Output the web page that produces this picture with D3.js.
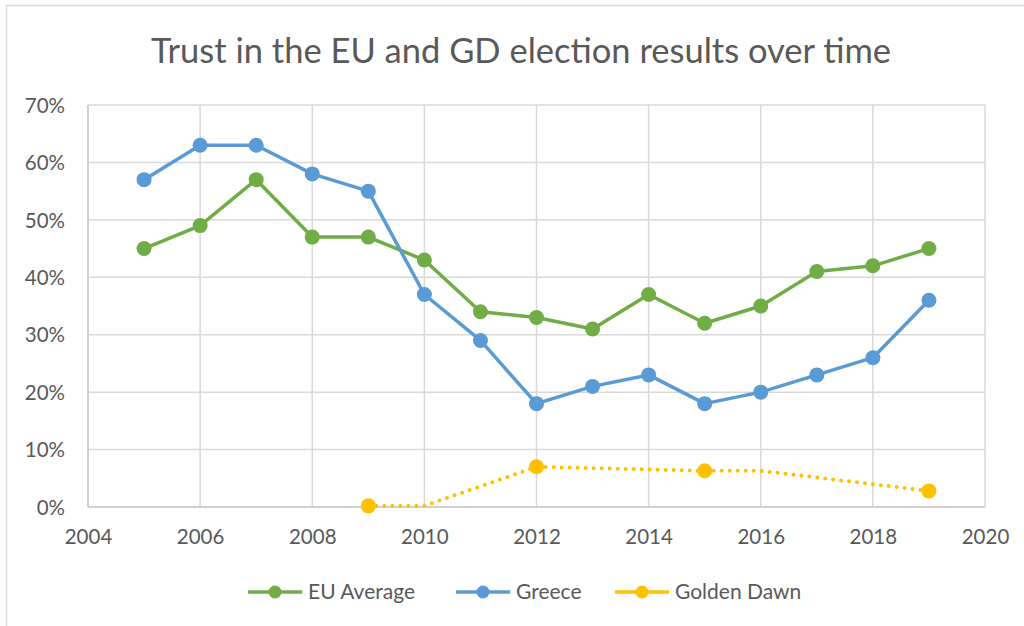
<!DOCTYPE html>
<html>
<head>
<meta charset="utf-8">
<script src="https://cdn.jsdelivr.net/npm/d3@7"></script>
<style>
  body { margin: 0; background: #fff; }
  svg { display: block; }
</style>
</head>
<body>
<script>
// data
var years = [2005, 2006, 2007, 2008, 2009, 2010, 2011, 2012, 2013, 2014, 2015, 2016, 2017, 2018, 2019];
var euAverage = [45, 49, 57, 47, 47, 43, 34, 33, 31, 37, 32, 35, 41, 42, 45];
var greece = [57, 63, 63, 58, 55, 37, 29, 18, 21, 23, 18, 20, 23, 26, 36];
// golden dawn: line points, markers only at election results
var gdYears = [2009, 2010, 2012, 2015, 2016, 2019];
var gdValues = [0.2, 0.2, 7.0, 6.3, 6.3, 2.8];
var gdMarked = [true, false, true, true, false, true];
var xTicks = [2004, 2006, 2008, 2010, 2012, 2014, 2016, 2018, 2020];
var yTicks = [0, 10, 20, 30, 40, 50, 60, 70];
var seriesNames = ["EU Average", "Greece", "Golden Dawn"];
var seriesColors = ["#70AD47", "#5B9BD5", "#FFC000"];

var W = 1024, H = 626;
var svg = d3.select("body").append("svg")
    .attr("width", W)
    .attr("height", H)

var font = "Lato, 'Open Sans', sans-serif";

// chart border
svg.append("rect")
    .attr("x", 6.5).attr("y", 5.5)
    .attr("width", W + 10).attr("height", H + 10)
    .attr("fill", "none")
    .attr("stroke", "#d9d9d9")
    .attr("stroke-width", 1.5)

var x = d3.scaleLinear().domain([2004, 2020]).range([88, 985]);
var y = d3.scaleLinear().domain([0, 70]).range([507, 105]);

// gridlines
svg.append("g").selectAll("line").data(yTicks).enter().append("line")
    .attr("x1", x(2004)).attr("x2", x(2020))
    .attr("y1", function(d) { return y(d); })
    .attr("y2", function(d) { return y(d); })
    .attr("stroke", "#d9d9d9").attr("stroke-width", 1.5)
svg.append("g").selectAll("line").data(xTicks).enter().append("line")
    .attr("x1", function(d) { return x(d); })
    .attr("x2", function(d) { return x(d); })
    .attr("y1", y(0)).attr("y2", y(70))
    .attr("stroke", "#d9d9d9").attr("stroke-width", 1.5)

// axes
var xAxis = svg.append("g")
    .attr("transform", "translate(0," + (y(0) + 30) + ")")
    .call(d3.axisBottom(x).tickValues(xTicks).tickFormat(d3.format("d")).tickSize(0).tickPadding(0))
var yAxis = svg.append("g")
    .attr("transform", "translate(" + (x(2004) - 23) + ",0)")
    .call(d3.axisLeft(y).tickValues(yTicks).tickFormat(function(d) { return d + "%"; }).tickSize(0).tickPadding(0))
xAxis.select(".domain").remove();
yAxis.select(".domain").remove();
svg.selectAll(".tick text")
    .attr("font-family", font)
    .attr("font-size", 20.5)
    .attr("fill", "#595959")
xAxis.selectAll(".tick text").attr("dy", "0.35em")
yAxis.selectAll(".tick text").attr("dy", "0.35em")

// left/bottom axis lines
svg.append("line").attr("x1", x(2004)).attr("x2", x(2004)).attr("y1", y(0)).attr("y2", y(70))
    .attr("stroke", "#d0d0d0").attr("stroke-width", 2)
svg.append("line").attr("x1", x(2004)).attr("x2", x(2020)).attr("y1", y(0)).attr("y2", y(0))
    .attr("stroke", "#d0d0d0").attr("stroke-width", 2)

var line = d3.line()
    .x(function(d) { return x(d[0]); })
    .y(function(d) { return y(d[1]); })

function drawSeries(xs, vs, color, dotted, marked) {
    var pts = xs.map(function(d, i) { return [d, vs[i]]; });
    svg.append("path")
        .datum(pts)
        .attr("d", line)
        .attr("fill", "none")
        .attr("stroke", color)
        .attr("stroke-width", dotted ? 4 : 3.5)
        .attr("stroke-dasharray", dotted ? "0,8" : null)
        .attr("stroke-linecap", dotted ? "round" : "butt")
        .attr("stroke-linejoin", "round")
    svg.append("g").selectAll("circle")
        .data(pts.filter(function(d, i) { return !marked || marked[i]; }))
        .enter().append("circle")
        .attr("cx", function(d) { return x(d[0]); })
        .attr("cy", function(d) { return y(d[1]); })
        .attr("r", 7.5)
        .attr("fill", color)
}

drawSeries(years, euAverage, seriesColors[0], false);
drawSeries(years, greece, seriesColors[1], false);
drawSeries(gdYears, gdValues, seriesColors[2], true, gdMarked);

// title
svg.append("text")
    .attr("x", 521).attr("y", 63)
    .attr("text-anchor", "middle")
    .attr("font-family", font)
    .attr("font-size", 34.5)
    .attr("fill", "#595959")
    .text("Trust in the EU and GD election results over time")

// legend
var legendX = [248, 456, 615];
var legend = svg.append("g").selectAll("g").data(seriesNames).enter().append("g")
    .attr("transform", function(d, i) { return "translate(" + legendX[i] + ",592)"; })
legend.append("line")
    .attr("x1", 0).attr("x2", 54).attr("y1", 0).attr("y2", 0)
    .attr("stroke", function(d, i) { return seriesColors[i]; })
    .attr("stroke-width", 3.5)
legend.append("circle")
    .attr("cx", 27).attr("cy", 0).attr("r", 6.5)
    .attr("fill", function(d, i) { return seriesColors[i]; })
legend.append("text")
    .attr("x", 60).attr("y", 0).attr("dy", "0.35em")
    .attr("font-family", font)
    .attr("font-size", 21)
    .attr("fill", "#595959")
    .text(function(d) { return d; })
</script>
</body>
</html>
